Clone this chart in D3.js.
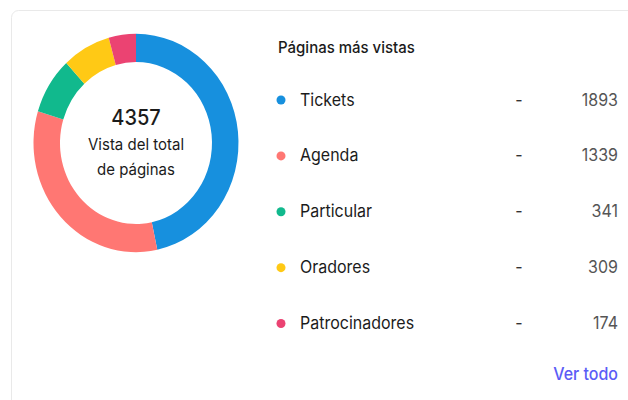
<!DOCTYPE html>
<html lang="es">
<head>
<meta charset="utf-8">
<title>Páginas más vistas</title>
<script src="https://cdn.jsdelivr.net/npm/d3@7"></script>
<style>
  body { margin: 0; background: #fff; }
  svg { display: block; font-family: Inter, "Noto Sans", sans-serif; }
</style>
</head>
<body>
<script>
// data
var pages = ["Tickets", "Agenda", "Particular", "Oradores", "Patrocinadores"];
var views = [1893, 1339, 341, 309, 174];
var colors = ["#1790de", "#ff7773", "#11b98d", "#ffc915", "#eb4372"];
var totalViews = 4357;

var w = 628, h = 400;
var stretch = 1.065; // the screenshot is a touch taller than wide

var svg = d3.select("body").append("svg")
  .attr("width", w)
  .attr("height", h);

// card
svg.append("rect")
  .attr("x", 11.5).attr("y", 10.5)
  .attr("width", w + 20).attr("height", h + 20)
  .attr("rx", 7)
  .attr("fill", "#fff")
  .attr("stroke", "#e9e9e9");

// donut
var cx = 136, cy = 143;
var donut = svg.append("g")
  .attr("transform", "translate(" + cx + "," + cy + ") scale(1," + stretch + ")");

var pie = d3.pie().sort(null);
var arc = d3.arc().innerRadius(76).outerRadius(102.5);

donut.selectAll("path")
  .data(pie(views))
  .enter()
  .append("path")
  .attr("d", arc)
  .attr("fill", function(d, i) { return colors[i]; });

var center = svg.append("g").attr("text-anchor", "middle").attr("fill", "#1b1b1b");
center.append("text")
  .attr("x", cx).attr("y", 125)
  .attr("font-size", "20px")
  .attr("font-weight", 500)
  .text(totalViews);
center.append("text")
  .attr("x", cx).attr("y", 150)
  .attr("font-size", "15px")
  .text("Vista del total");
center.append("text")
  .attr("x", cx).attr("y", 175)
  .attr("font-size", "15px")
  .text("de páginas");

// legend list
svg.append("text")
  .attr("x", 278).attr("y", 53)
  .attr("font-size", "15px")
  .attr("font-weight", 500)
  .attr("fill", "#1b1b1b")
  .text("Páginas más vistas");

var yScale = d3.scalePoint()
  .domain(pages)
  .range([100, 323.5]);

var rows = svg.selectAll("g.row")
  .data(pages)
  .enter()
  .append("g")
  .attr("class", "row")
  .attr("transform", function(d) { return "translate(0," + yScale(d) + ")"; });

rows.append("circle")
  .attr("cx", 281)
  .attr("r", 4.5)
  .attr("fill", function(d, i) { return colors[i]; });

rows.append("text")
  .attr("x", 300).attr("y", 5.5)
  .attr("font-size", "16px")
  .attr("fill", "#1b1b1b")
  .text(function(d) { return d; });

rows.append("text")
  .attr("x", 519).attr("y", 5.5)
  .attr("text-anchor", "middle")
  .attr("font-size", "16px")
  .attr("fill", "#333")
  .text("-");

rows.append("text")
  .attr("x", 618).attr("y", 5.5)
  .attr("text-anchor", "end")
  .attr("font-size", "16px")
  .attr("fill", "#555")
  .text(function(d, i) { return views[i]; });

svg.append("text")
  .attr("x", 618).attr("y", 380)
  .attr("text-anchor", "end")
  .attr("font-size", "16px")
  .attr("font-weight", 500)
  .attr("fill", "#5b5cf6")
  .text("Ver todo");

// stretch the text the same way, about each baseline
svg.selectAll("text").each(function() {
  var t = d3.select(this);
  var x = +t.attr("x"), y = +t.attr("y");
  t.attr("x", 0).attr("y", 0)
   .attr("transform", "translate(" + x + "," + y + ") scale(1," + stretch + ")");
});
</script>
</body>
</html>
